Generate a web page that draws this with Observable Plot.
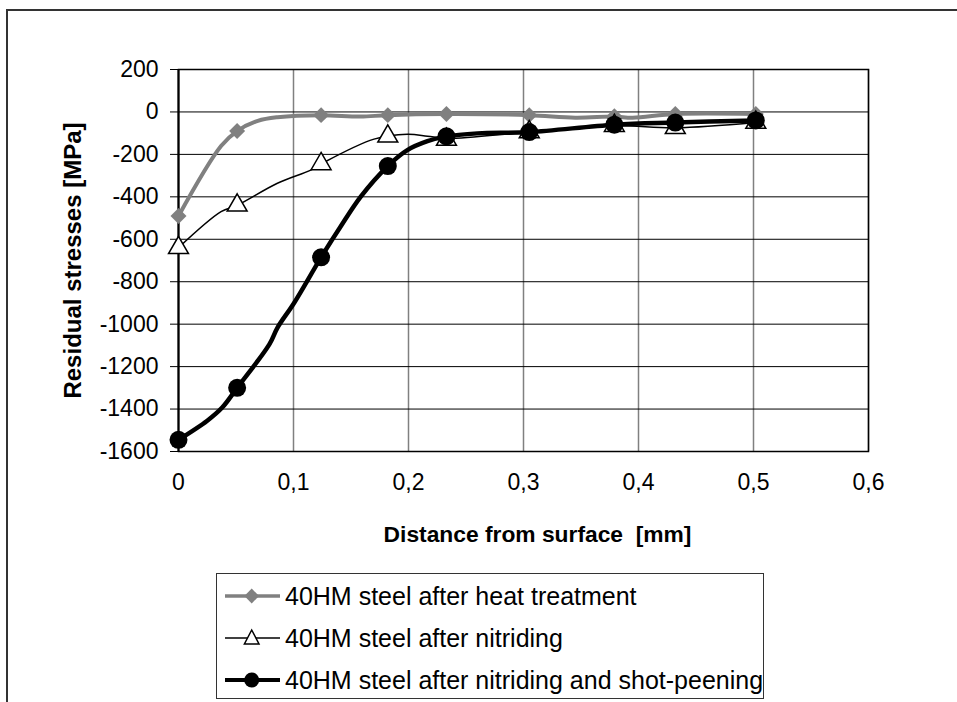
<!DOCTYPE html>
<html><head><meta charset="utf-8">
<script src="https://cdn.jsdelivr.net/npm/d3@7"></script>
<script src="https://cdn.jsdelivr.net/npm/@observablehq/plot@0.6"></script>
<style>
html,body{margin:0;padding:0;background:#fff;overflow:hidden}
#wrap{position:relative;width:957px;height:702px;overflow:hidden;font-family:"Liberation Sans",Arial,sans-serif}
#outer{position:absolute;left:6px;top:9px;width:2000px;height:2000px;border-top:2px solid #333;border-left:2px solid #333;box-sizing:border-box}
#chart{position:absolute;left:0;top:0}
#legend{position:absolute;left:216px;top:573px;width:548px;height:126px;border:1.5px solid #333;box-sizing:border-box;background:#fff}
.row{position:absolute;left:0;height:40px;width:100%}
.row svg{position:absolute;left:7px;top:0}
.row span{position:absolute;left:68px;top:0;line-height:40px;font-size:25px;color:#000;white-space:nowrap}
</style>
</head><body>
<div id="wrap"><div id="outer"></div><div id="chart"></div><div id="legend"></div></div>
<script>
// ---- data ----
const seriesNames = [
  "40HM steel after heat treatment",
  "40HM steel after nitriding",
  "40HM steel after nitriding and shot-peening"
];
const xTicks = [0, 0.1, 0.2, 0.3, 0.4, 0.5, 0.6];
const yTicks = [-1600, -1400, -1200, -1000, -800, -600, -400, -200, 0, 200];

// measured points (markers)
const distance      = [0, 0.051, 0.124, 0.182, 0.233, 0.305, 0.379, 0.432, 0.502];
const heatTreatment = [-490, -90, -15, -15, -10, -15, -20, -10, -10];
const nitriding     = [-640, -440, -245, -115, -130, -95, -65, -75, -50];
const shotPeening   = [-1545, -1300, -685, -255, -115, -95, -60, -50, -40];

// line paths as drawn in the picture (smoothed curves)
const heatLineX = [0, 0.037, 0.051, 0.069, 0.086, 0.124, 0.158, 0.182, 0.233, 0.305, 0.345, 0.379, 0.395, 0.432, 0.502];
const heatLineY = [-490, -160, -90, -42, -25, -15, -22, -15, -10, -15, -27, -22, -27, -10, -10];
const nitrLineX = [0, 0.037, 0.051, 0.086, 0.115, 0.124, 0.170, 0.199, 0.2165, 0.233, 0.305, 0.379, 0.432, 0.502];
const nitrLineY = [-640, -470, -440, -336, -274, -245, -128, -105, -114, -125, -95, -65, -75, -50];
const shotLineX = [0, 0.025, 0.038, 0.051, 0.079, 0.086, 0.1005, 0.124, 0.141, 0.1585, 0.182, 0.199, 0.2165, 0.233, 0.26, 0.305, 0.379, 0.432, 0.502];
const shotLineY = [-1545, -1455, -1393, -1300, -1095, -1017, -900, -685, -540, -399, -255, -180, -138, -115, -101, -95, -60, -50, -40];

// ---- build tables ----
const pts = ys => distance.map((x, i) => ({x, y: ys[i]}));
const path = (xs, ys) => xs.map((x, i) => ({x, y: ys[i]}));

const font = "Liberation Sans, Arial, sans-serif";
const chart = Plot.plot({
  width: 957, height: 702,
  marginLeft: 178, marginRight: 89, marginTop: 69, marginBottom: 251,
  style: {fontFamily: font, background: "transparent", overflow: "visible", color: "#000"},
  x: {domain: [0, 0.6]},
  y: {domain: [-1600, 200]},
  marks: [
    Plot.gridX(xTicks, {stroke: "#808080", strokeOpacity: 1, strokeWidth: 1.5}),
    Plot.gridY(yTicks, {stroke: "#000", strokeOpacity: 1, strokeWidth: 1}),
    Plot.frame({stroke: "#000", strokeWidth: 1.5}),
    Plot.ruleX([0], {stroke: "#000", strokeWidth: 2}),
    Plot.axisY(yTicks, {tickSize: 8, tickPadding: 12, fontSize: 23, label: null, tickFormat: d => String(d), stroke: "#000"}),
    Plot.axisX(xTicks, {tickSize: 0, tickPadding: 22, fontSize: 23, label: null, tickFormat: d => String(d).replace(".", ",")}),
    Plot.text(["Distance from surface\u00a0 [mm]"], {text: d => d, frameAnchor: "bottom", dx: 14, dy: 83, fontSize: 22.8, fontWeight: "bold", textAnchor: "middle", lineAnchor: "middle", fill: "#000"}),
    Plot.text(["Residual stresses [MPa]"], {text: d => d, frameAnchor: "left", rotate: -90, dx: -105, fontSize: 24, fontWeight: "bold", textAnchor: "middle", lineAnchor: "middle", fill: "#000"}),
    Plot.line(path(heatLineX, heatLineY), {x: "x", y: "y", stroke: "#808080", strokeWidth: 4, curve: "catmull-rom"}),
    Plot.dot(pts(heatTreatment), {x: "x", y: "y", symbol: "diamond2", r: 7.2, fill: "#808080", stroke: "none"}),
    Plot.line(path(nitrLineX, nitrLineY), {x: "x", y: "y", stroke: "#000", strokeWidth: 1.5, curve: "catmull-rom"}),
    Plot.dot(pts(nitriding), {x: "x", y: "y", symbol: "triangle", r: 7.4, fill: "#fff", stroke: "#000", strokeWidth: 1.5}),
    Plot.line(path(shotLineX, shotLineY), {x: "x", y: "y", stroke: "#000", strokeWidth: 4.5, curve: "catmull-rom"}),
    Plot.dot(pts(shotPeening), {x: "x", y: "y", symbol: "circle", r: 9, fill: "#000", stroke: "none"})
  ]
});
document.getElementById("chart").appendChild(chart);

// ---- legend ----
const legendStyles = [
  {stroke: "#808080", width: 3.5, marker: `<path d="M27.7,12.5 L35,20 L27.7,27.5 L20.4,20 Z" fill="#808080"/>`},
  {stroke: "#000", width: 1.5, marker: `<path d="M27.7,12 L35,26 L20.4,26 Z" fill="#fff" stroke="#000" stroke-width="1.5"/>`},
  {stroke: "#000", width: 4, marker: `<circle cx="27.7" cy="20" r="7.5" fill="#000"/>`}
];
const rowTops = [2, 44, 86];
const legend = document.getElementById("legend");
seriesNames.forEach((name, i) => {
  const s = legendStyles[i];
  const row = document.createElement("div");
  row.className = "row";
  row.style.top = rowTops[i] + "px";
  row.innerHTML = `<svg width="60" height="40"><line x1="1" y1="20" x2="56" y2="20" stroke="${s.stroke}" stroke-width="${s.width}"/>${s.marker}</svg><span></span>`;
  row.querySelector("span").textContent = name;
  legend.appendChild(row);
});
</script>
</body></html>
